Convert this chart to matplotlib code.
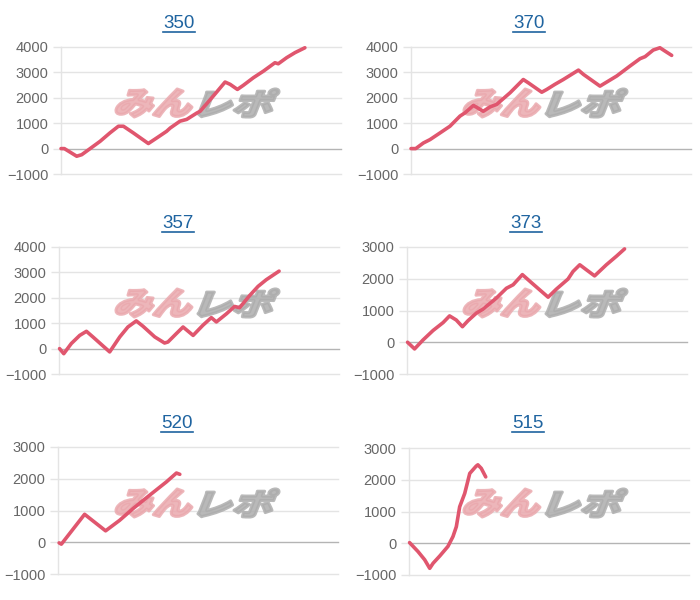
import matplotlib
matplotlib.use("Agg")
import matplotlib.pyplot as plt
import matplotlib.transforms as mtransforms
from matplotlib.font_manager import FontProperties
from matplotlib.lines import Line2D
from matplotlib.patches import PathPatch
from matplotlib.textpath import TextPath

plt.rcParams["font.family"] = ["Liberation Sans", "DejaVu Sans"]

# 台番号ごとの差枚推移（横軸は経過ゲームの目安）
titles = ["350", "370", "357", "373", "520", "515"]

x_350 = [0, 1.2, 5.6, 7.4, 10.4, 14, 17.5, 20.5, 22.3, 25.8, 31.2, 34.2, 37.7, 39, 42.5, 44.9,
         48.5, 49.7, 54.4, 58.6, 60.4, 63, 65.1, 68.7, 72.3, 76.4, 77.6, 80.6, 83.6, 87.1]
y_350 = [0, 0, -300, -240, 0, 290, 620, 880, 880, 620, 200, 420, 680, 810, 1080, 1150,
         1400, 1470, 2070, 2620, 2530, 2330, 2490, 2790, 3050, 3380, 3340, 3580, 3780, 3970]

x_370 = [0, 1.7, 4.4, 6.8, 10.4, 13.9, 17.5, 19.3, 22.3, 25.8, 28.2, 30.6, 35.4, 40.1, 41.9,
         46.7, 48.5, 51.4, 54.4, 59.8, 61.6, 67.5, 73.5, 78.2, 81.8, 83.6, 86.5, 88.9, 90.7, 93.1]
y_370 = [0, 0, 220, 355, 620, 880, 1280, 1410, 1700, 1470, 1640, 1740, 2200, 2720, 2590,
         2220, 2330, 2530, 2720, 3090, 2920, 2460, 2860, 3250, 3540, 3620, 3880, 3970, 3840, 3670]

x_357 = [0.2, 1.7, 4.4, 7.4, 9.8, 12.1, 18.1, 21.7, 24.6, 27.6, 30, 34.2, 37.7, 38.9, 41.9,
         44.3, 47.9, 51.4, 54.4, 56.2, 59.8, 62.7, 64.5, 68.1, 71.1, 74, 78.6]
y_357 = [0, -200, 200, 520, 680, 460, -130, 460, 850, 1090, 880, 460, 220, 260, 590,
         850, 520, 920, 1220, 1050, 1370, 1660, 1610, 2090, 2450, 2710, 3050]

x_373 = [0.2, 2.7, 5.7, 9.3, 12.9, 15.2, 17.6, 19.8, 21.8, 24.8, 27.1, 31.9, 35.5, 37.9, 41.2,
         44.4, 50.4, 53.3, 57.5, 59.3, 61.7, 64.1, 67, 71.2, 74.8, 77.7]
y_373 = [0, -210, 70, 370, 620, 830, 700, 490, 680, 920, 1040, 1390, 1700, 1810, 2130,
         1880, 1420, 1670, 1990, 2230, 2440, 2280, 2090, 2440, 2710, 2940]

x_520 = [0.4, 1.2, 9.5, 17, 22, 26.8, 32.7, 38.7, 42.3, 43.5]
y_520 = [-20, -60, 880, 360, 690, 1060, 1480, 1900, 2180, 2140]

x_515 = [0.2, 3.2, 5.6, 7.4, 8.6, 11, 13.9, 15.7, 16.9, 18.1, 19.9, 21.7, 24, 24.6, 25.8, 27.4]
y_515 = [20, -260, -520, -790, -630, -400, -100, 210, 520, 1150, 1570, 2200, 2430, 2470, 2360, 2090]

series = [(x_350, y_350), (x_370, y_370), (x_357, y_357),
          (x_373, y_373), (x_520, y_520), (x_515, y_515)]
y_ranges = [(-1000, 4000), (-1000, 4000), (-1000, 4000),
            (-1000, 3000), (-1000, 3000), (-1000, 3000)]

# 各グラフの描画領域（ピクセル, 上端基準）
boxes = [(61, 341, 47, 174), (411, 691, 47, 174),
         (59, 339, 247, 374), (407, 687, 247, 374),
         (58, 338, 447, 574), (409, 689, 448, 575)]
title_pos = [(179, 24), (529, 24), (178, 224), (526, 224), (177, 424), (528, 424)]

W, H = 700, 600
LINE_COLOR = "#e0566e"
GRID_COLOR = "#e4e4e4"
ZERO_COLOR = "#b4b4b4"
TITLE_COLOR = "#1f64a0"

fig = plt.figure(figsize=(W / 100, H / 100), dpi=100)
fig.patch.set_facecolor("white")

wm_font = FontProperties(family=["Noto Sans CJK JP"], weight="heavy")


def add_watermark(ax, text, box, color):
    """透かし文字を斜体風にしてピクセル座標の枠に収める。"""
    x0, x1, ytop, ybot = box
    path = TextPath((0, 0), text, size=1, prop=wm_font)
    path = path.transformed(mtransforms.Affine2D().skew_deg(16, 0))
    ext = path.get_extents()
    fit = (mtransforms.Affine2D()
           .translate(-ext.x0, -ext.y0)
           .scale((x1 - x0) / ext.width, (ybot - ytop) / ext.height)
           .translate(x0, H - ybot))
    patch = PathPatch(path, transform=fit + mtransforms.IdentityTransform(),
                      facecolor=color, edgecolor=color, linewidth=2.2,
                      joinstyle="round", alpha=0.85, zorder=1.5, clip_on=False)
    ax.add_patch(patch)


for i, ((xs, ys), (ylo, yhi), (l, r, t, b)) in enumerate(zip(series, y_ranges, boxes)):
    ax = fig.add_axes([l / W, 1 - b / H, (r - l) / W, (b - t) / H])
    ax.set_xlim(0, 100)
    ax.set_ylim(ylo, yhi)
    ticks = list(range(ylo, yhi + 1, 1000))
    ax.set_yticks(ticks)
    ax.set_xticks([])
    for v in ticks:
        ax.axhline(v, color=ZERO_COLOR if v == 0 else GRID_COLOR, lw=1.0,
                   zorder=1, clip_on=False)
    for s in ["top", "right", "bottom"]:
        ax.spines[s].set_visible(False)
    ax.spines["left"].set_color(GRID_COLOR)
    ax.spines["left"].set_linewidth(1.0)
    ax.tick_params(axis="y", length=6, width=1.0, color=GRID_COLOR, pad=3,
                   labelsize=10.5, labelcolor="#666666")
    ax.patch.set_alpha(0)

    # 透かしロゴ
    cx = 116 if l < 200 else 464
    cy = 89 + 200 * (i // 2)
    add_watermark(ax, "みん", (cx, cx + 76, cy, cy + 28), "#eaa9ae")
    add_watermark(ax, "レポ", (cx + 82, cx + 163, cy, cy + 28), "#adadad")

    ax.plot(xs, ys, color=LINE_COLOR, lw=2.6, solid_joinstyle="round",
            solid_capstyle="round", zorder=3, clip_on=False)

    # タイトル（下線付きリンク風）
    tx, ty = title_pos[i]
    fig.text(tx / W, 1 - ty / H, titles[i], ha="center", va="center",
             fontsize=13.5, color=TITLE_COLOR)

renderer = fig.canvas.get_renderer()
for txt in list(fig.texts):
    bb = txt.get_window_extent(renderer)
    yline = bb.y0 + 1
    fig.add_artist(Line2D([bb.x0 / W, bb.x1 / W], [yline / H, yline / H],
                          color=TITLE_COLOR, lw=1.2, transform=fig.transFigure))

fig.savefig("out.png", dpi=100, facecolor="white")
